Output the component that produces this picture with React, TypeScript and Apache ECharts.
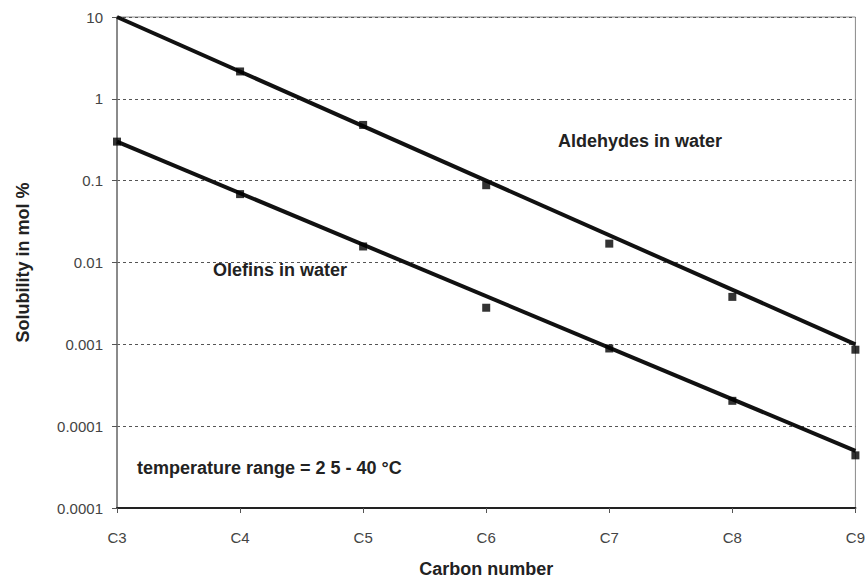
import React, { useEffect, useRef } from "react";
import * as echarts from "echarts";

const carbonNumbers = [3, 4, 5, 6, 7, 8, 9];
const aldehydePoints = [
  [4, 2.16],
  [5, 0.48],
  [6, 0.088],
  [7, 0.017],
  [8, 0.0038],
  [9, 0.00086],
];
const olefinPoints = [
  [3, 0.3],
  [4, 0.0685],
  [5, 0.0157],
  [6, 0.0028],
  [7, 0.00089],
  [8, 0.000204],
  [9, 0.000044],
];
const aldehydeTrend = [
  [3, 10],
  [9, 0.001],
];
const olefinTrend = [
  [3, 0.3],
  [9, 0.00005],
];
const yTickLabels = ["0.0001", "0.0001", "0.001", "0.01", "0.1", "1", "10"];
const xTickPrefix = "C";

const FONT = "'Liberation Sans', Arial, Helvetica, sans-serif";

export default function App() {
  const ref = useRef<HTMLDivElement>(null);
  useEffect(() => {
    document.body.style.margin = "0";
    const chart = echarts.init(ref.current!, null, { renderer: "svg" });
    chart.setOption({
      animation: false,
      backgroundColor: "#ffffff",
      grid: {
        left: 117,
        right: 8,
        top: 17,
        bottom: 70,
        show: true,
        borderColor: "#8a8a8a",
        borderWidth: 1,
      },
      xAxis: {
        type: "value",
        min: carbonNumbers[0],
        max: carbonNumbers[carbonNumbers.length - 1],
        interval: 1,
        name: "Carbon number",
        nameLocation: "middle",
        nameGap: 52,
        nameTextStyle: { fontFamily: FONT, fontSize: 18, fontWeight: "bold", color: "#222" },
        axisLine: { show: true, lineStyle: { color: "#222", width: 2 } },
        axisTick: { show: true, length: 5, lineStyle: { color: "#555" } },
        axisLabel: {
          margin: 22,
          fontFamily: FONT,
          fontSize: 15,
          color: "#444",
          formatter: (v: number) => xTickPrefix + v,
        },
        splitLine: { show: false },
      },
      yAxis: {
        type: "log",
        logBase: 10,
        min: 0.00001,
        max: 10,
        name: "Solubility in mol %",
        nameLocation: "middle",
        nameGap: 85,
        nameTextStyle: { fontFamily: FONT, fontSize: 18, fontWeight: "bold", color: "#222" },
        axisLine: { show: true, lineStyle: { color: "#777", width: 1.5 } },
        axisTick: { show: true, length: 5, lineStyle: { color: "#555" } },
        axisLabel: {
          margin: 14,
          fontFamily: FONT,
          fontSize: 15,
          color: "#444",
          formatter: (_v: number, i: number) => yTickLabels[i] ?? "",
        },
        splitLine: {
          show: true,
          lineStyle: { color: "#555", type: [3, 3], width: 1 },
        },
        minorTick: { show: false },
      },
      series: [
        {
          type: "line",
          data: aldehydeTrend,
          symbol: "none",
          lineStyle: { color: "#111", width: 4 },
          z: 3,
        },
        {
          type: "line",
          data: olefinTrend,
          symbol: "none",
          lineStyle: { color: "#111", width: 4 },
          z: 3,
        },
        {
          type: "scatter",
          data: aldehydePoints,
          symbol: "rect",
          symbolSize: 8,
          itemStyle: { color: "#000" },
          z: 4,
        },
        {
          type: "scatter",
          data: olefinPoints,
          symbol: "rect",
          symbolSize: 8,
          itemStyle: { color: "#000" },
          z: 4,
        },
      ],
      graphic: [
        {
          type: "text",
          left: 558,
          top: 132,
          style: { text: "Aldehydes in water", font: `bold 18px ${FONT}`, fill: "#222" },
        },
        {
          type: "text",
          left: 213,
          top: 261,
          style: { text: "Olefins in water", font: `bold 18px ${FONT}`, fill: "#222" },
        },
        {
          type: "text",
          left: 137,
          top: 459,
          style: { text: "temperature range = 2 5 - 40 °C", font: `bold 18px ${FONT}`, fill: "#222" },
        },
      ],
    });
    return () => chart.dispose();
  }, []);
  return <div ref={ref} style={{ width: 868, height: 583 }} />;
}
